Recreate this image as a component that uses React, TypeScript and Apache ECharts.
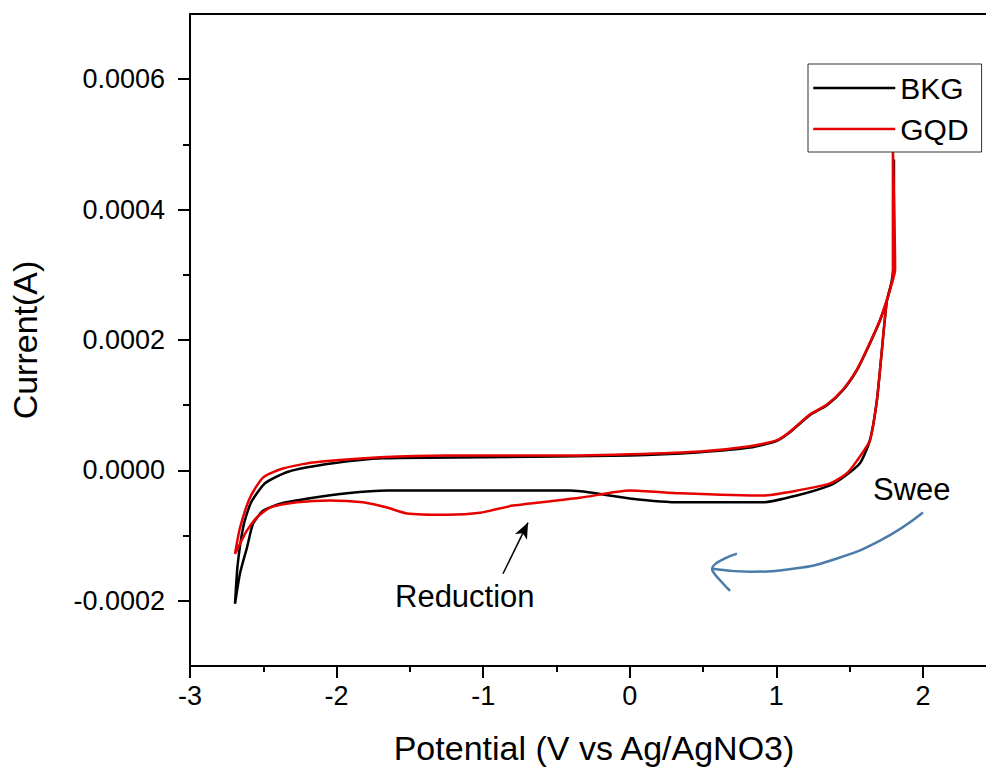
import React, { useEffect, useRef } from "react";
import * as echarts from "echarts";

// Potential (V vs Ag/AgNO3) and Current (A), traced around each CV loop
const bkgV = [-2.693, -2.675, -2.635, -2.585, -2.49, -2.33, -2.025, -1.683, -1.0, 0, 0.48, 0.82, 1.0, 1.09, 1.23, 1.345, 1.454, 1.55, 1.618, 1.707, 1.775, 1.8, 1.802, 1.802, 1.754, 1.72, 1.686, 1.638, 1.57, 1.454, 1.366, 1.14, 0.909, 0.343, 0, -0.271, -0.408, -0.885, -1.656, -1.929, -2.161, -2.386, -2.502, -2.57, -2.611, -2.659, -2.693];
const bkgI = [-2.046e-4, -1.45e-4, -0.85e-4, -0.5e-4, -0.2e-4, -0.02e-4, 0.108e-4, 0.185e-4, 0.2e-4, 0.23e-4, 0.28e-4, 0.35e-4, 0.45e-4, 0.58e-4, 0.85e-4, 1.0e-4, 1.23e-4, 1.54e-4, 1.85e-4, 2.3e-4, 2.77e-4, 3.15e-4, 4.77e-4, 3.08e-4, 2.6e-4, 1.85e-4, 1.08e-4, 0.46e-4, 0.11e-4, -0.11e-4, -0.23e-4, -0.385e-4, -0.49e-4, -0.49e-4, -0.43e-4, -0.34e-4, -0.31e-4, -0.31e-4, -0.31e-4, -0.35e-4, -0.42e-4, -0.51e-4, -0.62e-4, -0.82e-4, -1.18e-4, -1.58e-4, -2.046e-4];

const gqdV = [-2.693, -2.659, -2.591, -2.502, -2.366, -2.161, -1.704, -1.247, -0.34, 0, 0.48, 0.82, 1.0, 1.09, 1.23, 1.345, 1.454, 1.55, 1.618, 1.707, 1.775, 1.795, 1.795, 1.81, 1.754, 1.72, 1.686, 1.638, 1.55, 1.48, 1.366, 1.14, 0.909, 0.343, 0, -0.34, -0.797, -1.022, -1.247, -1.52, -1.656, -1.82, -2.045, -2.27, -2.454, -2.543, -2.611, -2.638, -2.693];
const gqdI = [-1.28e-4, -0.88e-4, -0.42e-4, -0.11e-4, 0.03e-4, 0.12e-4, 0.2e-4, 0.23e-4, 0.23e-4, 0.246e-4, 0.29e-4, 0.37e-4, 0.46e-4, 0.59e-4, 0.86e-4, 1.01e-4, 1.24e-4, 1.55e-4, 1.86e-4, 2.31e-4, 2.78e-4, 3.0e-4, 4.92e-4, 3.08e-4, 2.6e-4, 1.85e-4, 1.08e-4, 0.46e-4, 0.15e-4, -0.046e-4, -0.2e-4, -0.31e-4, -0.385e-4, -0.35e-4, -0.31e-4, -0.42e-4, -0.54e-4, -0.65e-4, -0.68e-4, -0.66e-4, -0.57e-4, -0.49e-4, -0.46e-4, -0.49e-4, -0.57e-4, -0.72e-4, -0.92e-4, -1.03e-4, -1.28e-4];

// hand-drawn sweep arrow (data coordinates)
const sweepV = [2.0, 1.707, 1.366, 1.113, 0.82, 0.561];
const sweepI = [-0.646e-4, -1.077e-4, -1.385e-4, -1.51e-4, -1.554e-4, -1.51e-4];
const sweepHeadV = [0.731, 0.561, 0.63, 0.684];
const sweepHeadI = [-1.277e-4, -1.51e-4, -1.72e-4, -1.846e-4];

// reduction arrow (data coordinates)
const reductionFrom = [-0.865, -1.585e-4];
const reductionTo = [-0.694, -0.8e-4];

const xMajor = [-3, -2, -1, 0, 1, 2];
const xMinor = [-2.5, -1.5, -0.5, 0.5, 1.5];
const yMajor = [-0.0002, 0, 0.0002, 0.0004, 0.0006];
const yMinor = [-0.0001, 0.0001, 0.0003, 0.0005];

const seriesNames = ["BKG", "GQD"];
const FONT = '"Liberation Sans", Arial, sans-serif';

const zip = (a: number[], b: number[]) => a.map((v, i) => [v, b[i]]);

export default function App() {
  const ref = useRef<HTMLDivElement>(null);
  useEffect(() => {
    if (!ref.current) return;
    const chart = echarts.init(ref.current, undefined, { renderer: "svg" });
    const xMin = -3, xMax = 2.43, yMin = -0.0003, yMax = 0.0007;
    const axisLineStyle = { color: "#000", width: 2 };
    chart.setOption({
      animation: false,
      backgroundColor: "#fff",
      grid: { left: 190, top: 14, right: 0, bottom: 103, containLabel: false },
      xAxis: [
        {
          type: "value", min: xMin, max: xMax, position: "bottom",
          axisLine: { onZero: false, lineStyle: axisLineStyle },
          axisTick: { customValues: xMajor, length: 12, lineStyle: { color: "#000", width: 2 } },
          axisLabel: { customValues: xMajor, formatter: (v: number) => String(v), fontSize: 27, fontFamily: FONT, color: "#000", margin: 16 },
          splitLine: { show: false },
        },
        {
          type: "value", min: xMin, max: xMax, position: "bottom",
          axisLine: { show: false, onZero: false },
          axisTick: { customValues: xMinor, length: 6, lineStyle: { color: "#000", width: 2 } },
          axisLabel: { show: false },
          splitLine: { show: false },
        },
        {
          type: "value", min: xMin, max: xMax, position: "top",
          axisLine: { onZero: false, lineStyle: axisLineStyle },
          axisTick: { show: false },
          axisLabel: { show: false },
          splitLine: { show: false },
        },
      ],
      yAxis: [
        {
          type: "value", min: yMin, max: yMax, position: "left",
          axisLine: { onZero: false, lineStyle: axisLineStyle },
          axisTick: { customValues: yMajor, length: 12, lineStyle: { color: "#000", width: 2 } },
          axisLabel: { customValues: yMajor, formatter: (v: number) => v.toFixed(4), fontSize: 27, fontFamily: FONT, color: "#000", margin: 25 },
          splitLine: { show: false },
        },
        {
          type: "value", min: yMin, max: yMax, position: "left",
          axisLine: { show: false, onZero: false },
          axisTick: { customValues: yMinor, length: 7, lineStyle: { color: "#000", width: 2 } },
          axisLabel: { show: false },
          splitLine: { show: false },
        },
      ],
      legend: {
        data: seriesNames,
        orient: "vertical",
        left: 808,
        top: 64,
        padding: [9, 13, 8, 4],
        itemGap: 11,
        itemWidth: 82,
        itemHeight: 14,
        borderColor: "#333",
        borderWidth: 1,
        backgroundColor: "#fff",
        itemStyle: { opacity: 0 },
        lineStyle: { width: 2.5 },
        textStyle: { fontSize: 30, fontFamily: FONT, color: "#000", lineHeight: 30 },
      },
      series: [
        {
          name: seriesNames[0], type: "line", data: zip(bkgV, bkgI), symbol: "none",
          smooth: 0.2, color: "#000", lineStyle: { color: "#000", width: 2.5 }, z: 2,
        },
        {
          name: seriesNames[1], type: "line", data: zip(gqdV, gqdI), symbol: "none",
          smooth: 0.2, color: "#e60000", lineStyle: { color: "#e60000", width: 2.5 }, z: 3,
          markLine: {
            silent: true, animation: false,
            symbol: ["none", "arrow"], symbolSize: [10, 16],
            label: { show: false },
            lineStyle: { color: "#000", width: 1.5, type: "solid" },
            data: [[{ coord: reductionFrom }, { coord: reductionTo }]],
          },
        },
        {
          name: "sweep", type: "line", data: zip(sweepV, sweepI), symbol: "none", silent: true,
          smooth: 0.5, lineStyle: { color: "#4a7bab", width: 2.5 }, z: 4,
        },
        {
          name: "sweepHead", type: "line", data: zip(sweepHeadV, sweepHeadI), symbol: "none", silent: true,
          smooth: 0.4, lineStyle: { color: "#4a7bab", width: 2.5 }, z: 4,
        },
      ],
      graphic: [
        { type: "text", x: 25, y: 340, rotation: Math.PI / 2, style: { text: "Current(A)", fontSize: 34, fontFamily: FONT, fill: "#000", align: "center", verticalAlign: "middle" } },
        { type: "text", x: 594, y: 748, style: { text: "Potential (V vs Ag/AgNO3)", fontSize: 34, fontFamily: FONT, fill: "#000", align: "center", verticalAlign: "middle" } },
        { type: "text", x: 395, y: 596, style: { text: "Reduction", fontSize: 31, fontFamily: FONT, fill: "#000", align: "left", verticalAlign: "middle" } },
        { type: "text", x: 873, y: 489, style: { text: "Swee", fontSize: 31, fontFamily: FONT, fill: "#000", align: "left", verticalAlign: "middle" } },
      ],
    });
    return () => chart.dispose();
  }, []);
  return <div ref={ref} style={{ position: "fixed", left: 0, top: 0, width: 986, height: 769 }} />;
}
